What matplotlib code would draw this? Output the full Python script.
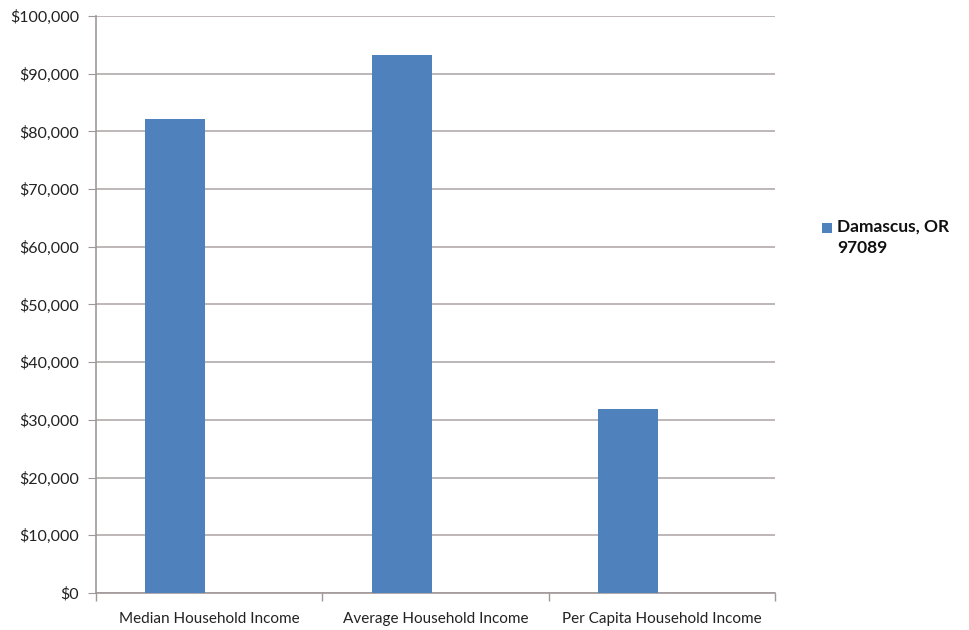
import numpy as np
import matplotlib
matplotlib.use("Agg")
import matplotlib.pyplot as plt
from matplotlib.patches import Rectangle
from matplotlib.ticker import FuncFormatter

categories = ["Median Household Income", "Average Household Income", "Per Capita Household Income"]
values = [82100, 93200, 31900]
series_name = "Damascus, OR\n97089"
bar_color = "#4f81bd"

plt.rcParams['font.family'] = ['Lato', 'DejaVu Sans']

fig = plt.figure(figsize=(9.7, 6.3), dpi=100)
ax = fig.add_axes([0.099, 0.0587, 0.700, 0.916])

x = np.arange(len(categories))
ax.bar(x - 0.15, values, width=0.265, color=bar_color, label=series_name, zorder=3)

ax.set_xlim(-0.5, len(categories) - 0.5)
ax.set_ylim(0, 100000)
ax.set_yticks(np.arange(0, 100001, 10000))
ax.yaxis.set_major_formatter(FuncFormatter(lambda v, p: "${:,.0f}".format(v)))
ax.grid(axis="y", color="#b3aaaa", linewidth=1.2, zorder=0)

ax.set_xticks(x)
ax.set_xticklabels(categories)
ax.set_xticks(np.arange(-0.5, len(categories)), minor=True)
ax.tick_params(axis="x", which="major", length=0, pad=14, labelsize=11, colors="#222222")
ax.tick_params(axis="x", which="minor", length=6, color="#a09898", width=1)
ax.tick_params(axis="y", length=6, labelsize=11.5, pad=6, colors="#a09898", labelcolor="#222222")

for s in ["top", "right"]:
    ax.spines[s].set_visible(False)
for s in ["left", "bottom"]:
    ax.spines[s].set_color("#a09898")
    ax.spines[s].set_linewidth(1.2)

# legend: square key aligned with the first text line
fig.patches.append(Rectangle((0.8474, 0.630), 0.0103, 0.0159, transform=fig.transFigure,
                             facecolor=bar_color, edgecolor="none"))
fig.text(0.863, 0.6524, series_name, ha="left", va="top", fontsize=12.5,
         fontweight="bold", linespacing=1.38, color="#111111")

fig.savefig("out.png", dpi=100)
